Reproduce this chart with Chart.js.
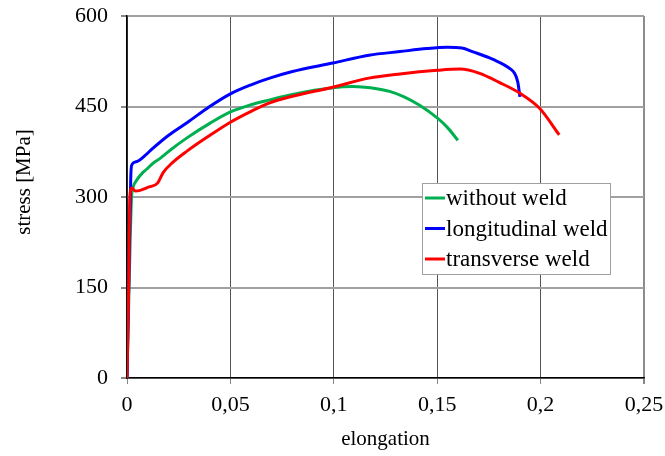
<!DOCTYPE html>
<html>
<head>
<meta charset="utf-8">
<script src="https://cdn.jsdelivr.net/npm/chart.js@4/dist/chart.umd.min.js"></script>
<style>
  html, body { margin: 0; padding: 0; background: #fff; }
  #wrap { width: 665px; height: 456px; }
</style>
</head>
<body>
<div id="wrap"><canvas id="c" width="665" height="456"></canvas></div>
<script>
// ---- data ----
const seriesLabels = ['without weld', 'longitudinal weld', 'transverse weld'];
const seriesColors = ['#00b050', '#0000ff', '#ff0000'];

const withoutX = [0, 0.001, 0.0022, 0.003, 0.0047, 0.0075, 0.0095, 0.0126, 0.016, 0.021, 0.029, 0.04, 0.05, 0.06, 0.069, 0.08, 0.0995, 0.109, 0.115, 0.12, 0.127, 0.134, 0.1415, 0.15, 0.155, 0.160];
const withoutY = [0, 150, 300, 317, 328, 340, 346, 356, 364, 378, 398, 422, 441, 453, 461, 470, 481, 483, 482, 480, 475, 466, 452, 431, 415, 394];

const longX = [0, 0.0008, 0.0018, 0.0022, 0.004, 0.006, 0.0085, 0.0126, 0.02, 0.029, 0.04, 0.05, 0.06, 0.069, 0.08, 0.0995, 0.117, 0.132, 0.145, 0.155, 0.162, 0.167, 0.177, 0.1855, 0.1874, 0.189, 0.190];
const longY = [0, 150, 330, 352, 358, 361, 368, 381, 402, 423, 450, 471, 486, 497, 508, 522, 535, 541, 546, 548, 547, 541, 528, 512, 505, 490, 466];

const transX = [0, 0.0008, 0.0014, 0.0023, 0.004, 0.0063, 0.01, 0.0148, 0.0174, 0.022, 0.029, 0.04, 0.05, 0.06, 0.069, 0.08, 0.0995, 0.117, 0.132, 0.15, 0.161, 0.1705, 0.18, 0.19, 0.1995, 0.209];
const transY = [0, 150, 300, 315, 310, 311, 316, 323, 340, 357, 376, 402, 424, 442, 456, 467, 482, 497, 504, 510, 512, 505, 490, 472, 447, 403];

const xTickLabels = ['0', '0,05', '0,1', '0,15', '0,2', '0,25'];
const yTickLabels = ['0', '150', '300', '450', '600'];
const xTitle = 'elongation';
const yTitle = 'stress [MPa]';

function pts(xs, ys) { return xs.map((x, i) => ({ x: x, y: ys[i] })); }

const FONT = "'Liberation Serif', 'Times New Roman', serif";

const overlay = {
  id: 'overlay',
  afterDraw(chart) {
    const ctx = chart.ctx;
    ctx.save();
    // y axis title
    ctx.font = '21px ' + FONT;
    ctx.fillStyle = '#000';
    ctx.textAlign = 'center';
    ctx.textBaseline = 'middle';
    ctx.translate(24, 182);
    ctx.rotate(-Math.PI / 2);
    ctx.fillText(yTitle, 0, 0);
    ctx.restore();

    // legend box
    ctx.save();
    ctx.fillStyle = '#fff';
    ctx.fillRect(422, 183, 189, 92);
    ctx.strokeStyle = '#a0a0a0';
    ctx.lineWidth = 1;
    ctx.strokeRect(422.5, 183.5, 188, 91);
    ctx.font = '23px ' + FONT;
    ctx.textAlign = 'left';
    ctx.textBaseline = 'alphabetic';
    chart.data.datasets.forEach((ds, i) => {
      const ry = 198 + i * 30.5;
      ctx.strokeStyle = ds.borderColor;
      ctx.lineWidth = 3;
      ctx.beginPath();
      ctx.moveTo(425, ry);
      ctx.lineTo(445, ry);
      ctx.stroke();
      ctx.fillStyle = '#000';
      ctx.fillText(ds.label, 446, ry + 7);
    });
    ctx.restore();
  }
};

const datasets = [
  { label: seriesLabels[0], data: pts(withoutX, withoutY), borderColor: seriesColors[0], order: 2 },
  { label: seriesLabels[1], data: pts(longX, longY), borderColor: seriesColors[1], order: 1 },
  { label: seriesLabels[2], data: pts(transX, transY), borderColor: seriesColors[2], order: 0 }
].map(d => Object.assign(d, {
  showLine: true, pointRadius: 0, borderWidth: 3, fill: false,
  cubicInterpolationMode: 'monotone', backgroundColor: d.borderColor
}));

new Chart(document.getElementById('c'), {
  type: 'scatter',
  data: { datasets: datasets },
  plugins: [overlay],
  options: {
    responsive: false,
    animation: false,
    devicePixelRatio: 1,
    layout: { padding: { top: 16, right: 21, left: 0, bottom: 0 } },
    plugins: { legend: { display: false }, tooltip: { enabled: false } },
    scales: {
      x: {
        type: 'linear', min: 0, max: 0.25,
        afterFit(s) { s.height = 78; s.paddingLeft = 0; s.paddingRight = 0; },
        afterBuildTicks(s) { s.ticks = xTickLabels.map((t, i) => ({ value: i * 0.05 })); },
        ticks: {
          color: '#000', font: { family: FONT, size: 22 }, padding: 8, maxRotation: 0,
          callback: (v, i) => xTickLabels[i]
        },
        grid: {
          color: (c) => (c.index === xTickLabels.length - 1 ? '#8c8c8c' : '#555'),
          lineWidth: (c) => (c.index === xTickLabels.length - 1 ? 2 : 1),
          tickColor: '#888', tickLength: 6, drawTicks: true
        },
        border: { color: '#000', width: 1.5 },
        title: { display: true, text: xTitle, color: '#000', font: { family: FONT, size: 21 }, padding: { top: 4, bottom: 4 } }
      },
      y: {
        type: 'linear', min: 0, max: 600,
        afterFit(s) { s.width = 127; s.paddingTop = 0; s.paddingBottom = 0; },
        afterBuildTicks(s) { s.ticks = yTickLabels.map((t, i) => ({ value: i * 150 })); },
        ticks: {
          color: '#000', font: { family: FONT, size: 22 }, padding: 13,
          callback: (v, i) => yTickLabels[i]
        },
        grid: { color: '#a0a0a0', lineWidth: 2, tickColor: '#888', tickLength: 6, drawTicks: true },
        border: { color: '#000', width: 1.5 }
      }
    }
  }
});
</script>
</body>
</html>
